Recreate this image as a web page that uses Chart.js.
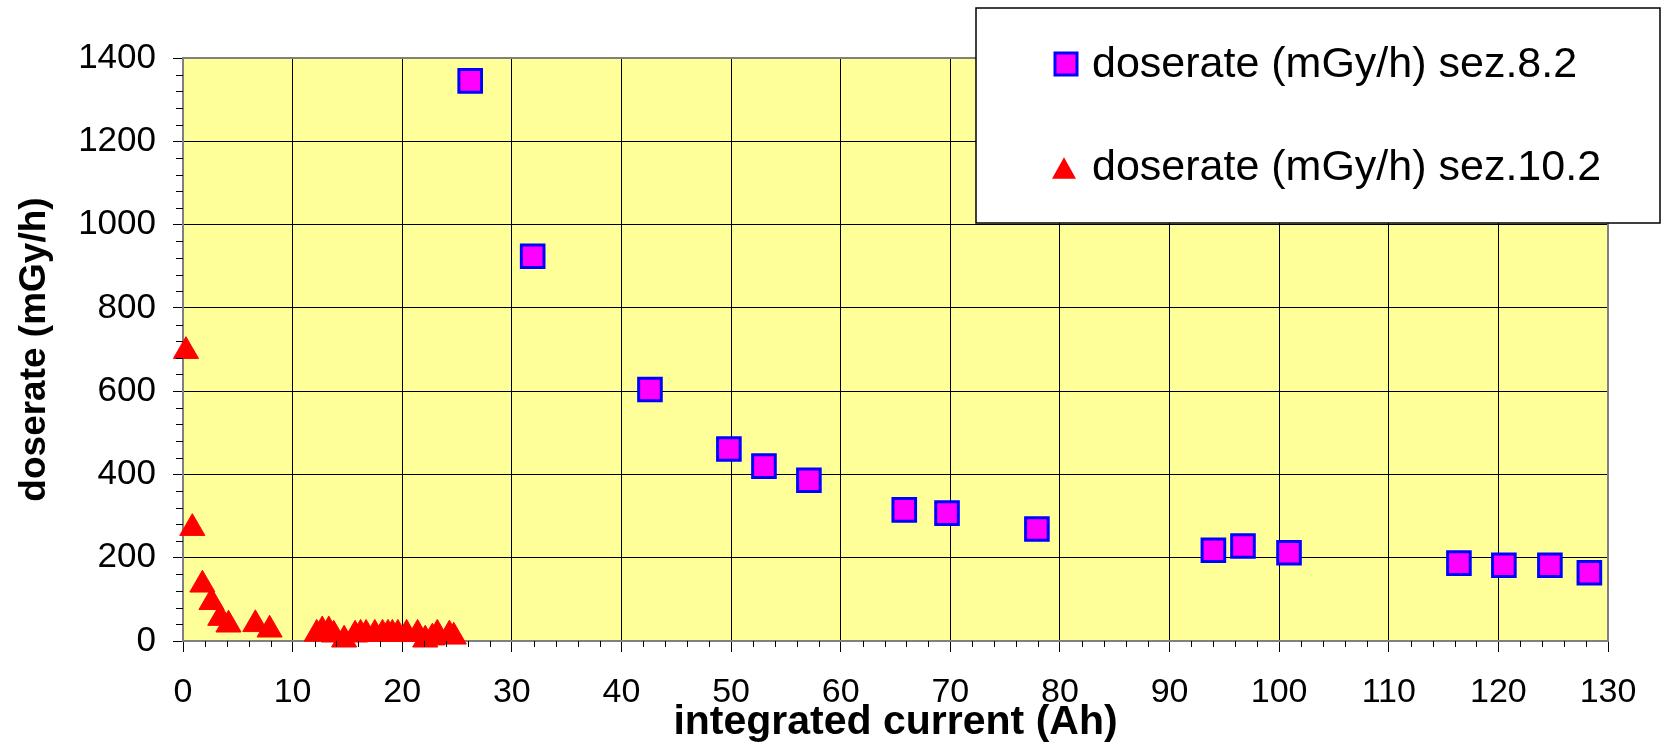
<!DOCTYPE html>
<html>
<head>
<meta charset="utf-8">
<script src="https://cdn.jsdelivr.net/npm/chart.js"></script>
<style>
    body { margin: 0; background: #fff; }
    #doseChart { display: block; }
</style>
</head>
<body>
<canvas id="doseChart" width="1664" height="747"></canvas>
<script>
// values
const sez82Label = 'doserate (mGy/h) sez.8.2';
const sez82X = [26.2, 31.9, 42.6, 49.8, 53.0, 57.1, 65.8, 69.7, 77.9, 94.0, 96.7, 100.9, 116.4, 120.5, 124.7, 128.3];
const sez82Y = [1345, 924, 604, 461, 420, 386, 315, 307, 269, 218, 228, 212, 187, 182, 182, 164];

const sez102Label = 'doserate (mGy/h) sez.10.2';
const sez102X = [0.27, 0.85, 1.77, 2.6, 3.4, 4.15, 6.6, 7.9, 12.2, 12.7, 13.3, 13.75, 14.7, 15.7, 16.2, 16.7,
    17.5, 18.2, 18.7, 19.1, 19.6, 20.4, 21.4, 22.1, 22.75, 23.2, 24.3, 24.7];
const sez102Y = [696, 271, 135, 93, 55, 39, 40, 27, 17, 25, 25, 15, 3, 15, 17, 17,
    17, 17, 17, 17, 17, 17, 17, 3, 8, 17, 15, 10];

const xTicks = [0, 10, 20, 30, 40, 50, 60, 70, 80, 90, 100, 110, 120, 130];
const yTicks = [0, 200, 400, 600, 800, 1000, 1200, 1400];

const xTitle = 'integrated current (Ah)';
const yTitle = 'doserate (mGy/h)';

function toPoints(xs, ys) {
    return xs.map(function (x, i) { return { x: x, y: ys[i] }; });
}

// yellow plot area + gray frame
const plotArea = {
    id: 'plotArea',
    beforeDraw: function (chart) {
        const a = chart.chartArea;
        const ctx = chart.ctx;
        ctx.save();
        ctx.fillStyle = '#FFFF99';
        ctx.fillRect(a.left, a.top, a.right - a.left, a.bottom - a.top);
        ctx.restore();
    },
    afterDraw: function (chart) {
        const a = chart.chartArea;
        const ctx = chart.ctx;
        ctx.save();
        ctx.strokeStyle = '#808080';
        ctx.lineWidth = 2;
        ctx.beginPath();
        ctx.moveTo(a.left, a.top);
        ctx.lineTo(a.right, a.top);
        ctx.lineTo(a.right, a.bottom);
        ctx.stroke();

        // minor tick marks
        const xs = chart.scales.x, ys = chart.scales.y;
        ctx.strokeStyle = '#000';
        ctx.lineWidth = 1;
        ctx.beginPath();
        for (let v = 2; v < 130; v += 2) {
            if (v % 10 === 0) continue;
            const px = Math.round(xs.getPixelForValue(v)) + 0.5;
            ctx.moveTo(px, a.bottom);
            ctx.lineTo(px, a.bottom + 6);
        }
        for (let v = 40; v < 1400; v += 40) {
            if (v % 200 === 0) continue;
            const py = Math.round(ys.getPixelForValue(v)) + 0.5;
            ctx.moveTo(a.left - 7, py);
            ctx.lineTo(a.left, py);
        }
        ctx.stroke();
        ctx.restore();
    }
};

function drawSquare(ctx, x, y, s) {
    ctx.fillStyle = '#FF00FF';
    ctx.strokeStyle = '#0000FF';
    ctx.lineWidth = 3;
    ctx.fillRect(x - s / 2, y - s / 2, s, s);
    ctx.strokeRect(x - s / 2, y - s / 2, s, s);
}

function drawTriangle(ctx, x, y, w) {
    const h = w * 0.9;
    ctx.fillStyle = '#FF0000';
    ctx.beginPath();
    ctx.moveTo(x, y - h / 2);
    ctx.lineTo(x + w / 2, y + h / 2);
    ctx.lineTo(x - w / 2, y + h / 2);
    ctx.closePath();
    ctx.fill();
}

// legend box in the top right corner
const legendBox = {
    id: 'legendBox',
    afterDraw: function (chart) {
        const ctx = chart.ctx;
        const left = chart.width - 688, top = 8, w = 684, h = 215;
        ctx.save();
        ctx.fillStyle = '#fff';
        ctx.fillRect(left, top, w, h);
        ctx.strokeStyle = '#000';
        ctx.lineWidth = 1.5;
        ctx.strokeRect(left, top, w, h);

        ctx.font = '43px "Liberation Sans", Arial, sans-serif';
        ctx.textBaseline = 'middle';
        const ds = chart.data.datasets;

        drawSquare(ctx, left + 90, top + 56, 22);
        ctx.fillStyle = '#000';
        ctx.fillText(ds[0].label, left + 116, top + 57);

        drawTriangle(ctx, left + 88, top + 160, 24);
        ctx.fillStyle = '#000';
        ctx.fillText(ds[1].label, left + 116, top + 160);
        ctx.restore();
    }
};

const fontFamily = '"Liberation Sans", Arial, sans-serif';
const ctx = document.getElementById('doseChart').getContext('2d');

new Chart(ctx, {
    type: 'scatter',
    data: {
        datasets: [{
            label: sez82Label,
            data: toPoints(sez82X, sez82Y),
            pointStyle: 'rect',
            pointRadius: 16,
            pointHoverRadius: 16,
            backgroundColor: '#FF00FF',
            borderColor: '#0000FF',
            borderWidth: 3,
            clip: false
        }, {
            label: sez102Label,
            data: toPoints(sez102X, sez102Y),
            pointStyle: 'triangle',
            pointRadius: 14.5,
            pointHoverRadius: 14.5,
            backgroundColor: '#FF0000',
            borderColor: '#FF0000',
            borderWidth: 1,
            clip: false
        }]
    },
    options: {
        responsive: false,
        animation: false,
        devicePixelRatio: 1,
        layout: {
            padding: { left: 0, top: 58, right: 56, bottom: 0 }
        },
        plugins: {
            legend: { display: false },
            tooltip: { enabled: false }
        },
        scales: {
            x: {
                type: 'linear',
                min: 0,
                max: 130,
                afterBuildTicks: function (scale) {
                    scale.ticks = xTicks.map(function (v) { return { value: v }; });
                },
                ticks: {
                    color: '#000',
                    padding: 20,
                    maxRotation: 0,
                    autoSkip: false,
                    callback: function (v) { return String(v); },
                    font: { family: fontFamily, size: 34 }
                },
                grid: {
                    color: '#000',
                    lineWidth: 1,
                    tickLength: 11
                },
                border: { color: '#808080', width: 2 },
                title: {
                    display: true,
                    text: xTitle,
                    color: '#000',
                    padding: { top: 0, bottom: 0 },
                    font: { family: fontFamily, size: 41, weight: 'bold' }
                },
                afterFit: function (scale) { scale.height = 106; }
            },
            y: {
                type: 'linear',
                min: 0,
                max: 1400,
                afterBuildTicks: function (scale) {
                    scale.ticks = yTicks.map(function (v) { return { value: v }; });
                },
                ticks: {
                    color: '#000',
                    padding: 17,
                    callback: function (v) { return String(v); },
                    font: { family: fontFamily, size: 35 }
                },
                grid: {
                    color: '#000',
                    lineWidth: 1,
                    tickLength: 10
                },
                border: { color: '#808080', width: 2 },
                title: {
                    display: true,
                    text: yTitle,
                    color: '#000',
                    padding: { top: 13, bottom: 0 },
                    font: { family: fontFamily, size: 37, weight: 'bold' }
                },
                afterFit: function (scale) { scale.width = 183; }
            }
        }
    },
    plugins: [plotArea, legendBox]
});
</script>
</body>
</html>
